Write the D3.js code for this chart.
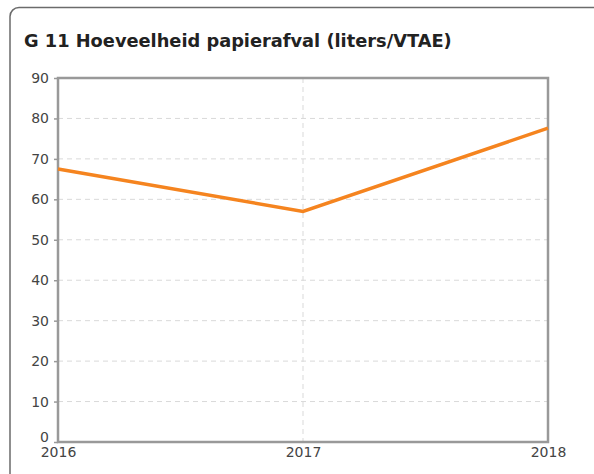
<!DOCTYPE html>
<html>
<head>
<meta charset="utf-8">
<script src="https://cdn.jsdelivr.net/npm/d3@7"></script>
<style>
  body { margin: 0; background: #fff; }
  svg { display: block; font-family: "DejaVu Sans", Verdana, sans-serif; }
</style>
</head>
<body>
<svg id="chart" width="594" height="474"></svg>
<script>
// data
const years = [2016, 2017, 2018];
const liters = [67.5, 57, 77.6];
const yTicks = [0, 10, 20, 30, 40, 50, 60, 70, 80, 90];

const svg = d3.select("#chart");
const margin = { left: 58, right: 46, top: 78, bottom: 32 };
const width = 594, height = 474;

// card outline (rounded top-left, runs off the page)
svg.append("rect")
  .attr("x", 10).attr("y", 7.5)
  .attr("width", 600).attr("height", 500)
  .attr("rx", 9)
  .attr("fill", "#fff")
  .attr("stroke", "#6b6b6b")
  .attr("stroke-width", 1.5);

svg.append("text")
  .attr("x", 24).attr("y", 47)
  .attr("font-size", 17.8)
  .attr("font-weight", "bold")
  .attr("fill", "#222")
  .text("G 11 Hoeveelheid papierafval (liters/VTAE)");

const x = d3.scaleLinear().domain([2016, 2018]).range([margin.left, width - margin.right]);
const y = d3.scaleLinear().domain([0, 90]).range([height - margin.bottom, margin.top]);

// gridlines
svg.append("g")
  .selectAll("line")
  .data(yTicks.slice(1, -1))
  .join("line")
  .attr("x1", x(2016)).attr("x2", x(2018))
  .attr("y1", d => y(d)).attr("y2", d => y(d))
  .attr("stroke", "#d9d9d9")
  .attr("stroke-dasharray", "5,4");

svg.append("line")
  .attr("x1", x(2017)).attr("x2", x(2017))
  .attr("y1", y(90)).attr("y2", y(0))
  .attr("stroke", "#d9d9d9")
  .attr("stroke-dasharray", "5,4");

// y axis
const yAxis = svg.append("g")
  .attr("transform", `translate(${x(2016)},0)`)
  .call(d3.axisLeft(y).tickValues(yTicks).tickSize(4).tickPadding(5));
yAxis.select(".domain").remove();
yAxis.selectAll("line").attr("stroke", "#999").attr("stroke-width", 1.5);
yAxis.selectAll("text").attr("font-size", 14).attr("fill", "#444")
  .attr("font-family", "DejaVu Sans, Verdana, sans-serif");
yAxis.selectAll(".tick").filter(d => d === 0).select("text").attr("dy", "-0.05em");

// x axis labels
const xAxis = svg.append("g")
  .attr("transform", `translate(0,${y(0)})`)
  .call(d3.axisBottom(x).tickValues(years).tickFormat(d3.format("d")).tickSize(0).tickPadding(5));
xAxis.select(".domain").remove();
xAxis.selectAll("text").attr("font-size", 14).attr("fill", "#444")
  .attr("font-family", "DejaVu Sans, Verdana, sans-serif");

// plot frame
svg.append("rect")
  .attr("x", x(2016)).attr("y", y(90))
  .attr("width", x(2018) - x(2016)).attr("height", y(0) - y(90))
  .attr("fill", "none")
  .attr("stroke", "#999")
  .attr("stroke-width", 2.5);

// line
const line = d3.line().x((d, i) => x(years[i])).y(d => y(d));
svg.append("path")
  .datum(liters)
  .attr("d", line)
  .attr("fill", "none")
  .attr("stroke", "#f5841f")
  .attr("stroke-width", 3.5);
</script>
</body>
</html>
